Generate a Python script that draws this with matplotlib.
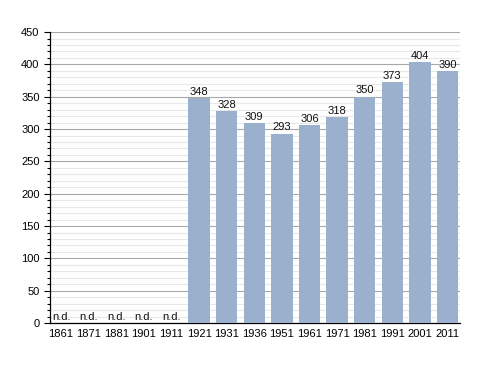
import matplotlib.pyplot as plt
from matplotlib.ticker import MultipleLocator
import numpy as np

years = ['1861', '1871', '1881', '1901', '1911', '1921', '1931', '1936',
         '1951', '1961', '1971', '1981', '1991', '2001', '2011']
population = [None, None, None, None, None, 348, 328, 309,
              293, 306, 318, 350, 373, 404, 390]


def main():
    plt.rcParams['font.family'] = ['Liberation Sans', 'DejaVu Sans']
    fig = plt.figure(figsize=(4.88, 3.73), dpi=100)
    ax = fig.add_axes([0.1025, 0.134, 0.84, 0.78])

    x = np.arange(len(years))
    heights = [v if v is not None else 0 for v in population]
    ax.bar(x, heights, width=0.78, color='#9ab0cc', zorder=3)

    # подписи над столбцами
    for xi, v in zip(x, population):
        if v is None:
            ax.text(xi, 2, 'n.d.', ha='center', va='bottom', fontsize=8,
                    color='#111111', zorder=4)
        else:
            ax.text(xi, v + 2, str(v), ha='center', va='bottom', fontsize=8,
                    color='#111111', zorder=4)

    ax.set_xlim(-0.4, 14.45)
    ax.set_ylim(0, 450)
    ax.set_xticks(x)
    ax.set_xticklabels(years, fontsize=8)
    ax.yaxis.set_major_locator(MultipleLocator(50))
    ax.yaxis.set_minor_locator(MultipleLocator(10))
    ax.tick_params(axis='y', labelsize=8, length=4, width=0.8)
    ax.tick_params(axis='y', which='minor', length=2, width=0.8)
    ax.tick_params(axis='x', length=0, pad=4)

    ax.grid(axis='y', which='major', color='#a8a8a8', linewidth=0.8, zorder=0)
    ax.grid(axis='y', which='minor', color='#e8e8e8', linewidth=0.8, zorder=0)

    for side in ['top', 'right']:
        ax.spines[side].set_visible(False)
    ax.spines['left'].set_linewidth(0.9)
    ax.spines['bottom'].set_linewidth(0.9)

    fig.savefig('out.png', dpi=100)


if __name__ == "__main__":
    main()
